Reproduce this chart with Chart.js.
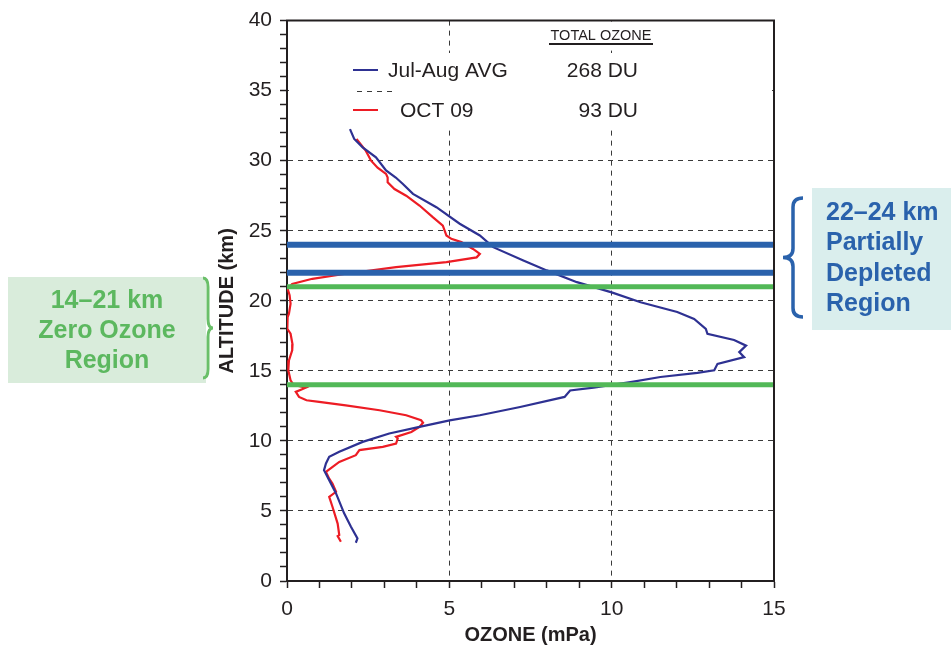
<!DOCTYPE html>
<html>
<head>
<meta charset="utf-8">
<title>Ozone profile</title>
<script src="https://cdn.jsdelivr.net/npm/chart.js@4.4.1/dist/chart.umd.min.js"></script>
<style>
  html, body { margin: 0; padding: 0; background: #fff; }
  #wrap { width: 951px; height: 648px; }
</style>
</head>
<body>
<div id="wrap"><canvas id="ozoneChart" width="951" height="648"></canvas></div>
<script>
const FONT = 'Arial, "Liberation Sans", sans-serif';
const INK = "#231f20";

// Jul-Aug average sounding (altitude km, partial pressure mPa)
const AVG_ALT = [32.25, 31.55, 30.95, 30.24, 29.3, 28.8, 28.34, 27.63, 26.68, 25.5, 24.66, 23.83, 22.88, 22.17,
  21.33, 20.6, 19.9, 19.2, 18.7, 18.0, 17.65, 17.2, 16.8, 16.34, 15.98, 15.5, 15.04, 14.85, 14.56, 14.2,
  13.8, 13.6, 13.14, 12.42, 11.83, 11.47, 11.0, 10.53, 9.93, 9.22, 8.86, 8.39, 7.91, 7.2, 6.25, 4.83,
  3.87, 3.04, 2.73];
const AVG_OZONE = [1.94, 2.07, 2.33, 2.74, 3.05, 3.35, 3.57, 3.88, 4.6, 5.32, 5.94, 6.35, 7.28, 8.0,
  8.93, 10.0, 10.89, 12.02, 12.54, 12.9, 12.95, 13.77, 14.14, 13.93, 14.08, 13.26, 13.16, 12.64, 11.5, 10.58,
  9.44, 8.72, 8.55, 7.18, 5.94, 5.01, 4.08, 3.15, 2.33, 1.61, 1.30, 1.20, 1.14, 1.30, 1.51, 1.76,
  1.97, 2.17, 2.12];

// 9 October sounding
const OCT_ALT = [31.55, 30.7, 30.0, 29.5, 29.06, 28.8, 28.46, 27.98, 27.5, 26.8, 25.97, 25.37, 24.66, 24.42,
  24.19, 23.7, 23.35, 23.1, 22.76, 22.4, 21.93, 21.57, 21.2, 20.86, 20.4, 19.79, 19.08, 18.84, 18.0, 17.65,
  16.9, 16.46, 15.75, 15.04, 14.33, 14.0, 13.8, 13.5, 13.14, 12.9, 12.78, 12.54, 12.19, 11.83, 11.47, 11.3,
  11.0, 10.64, 10.29, 10.17, 9.81, 9.57, 9.34, 8.98, 8.5, 7.79, 7.3, 6.96, 6.37, 6.0, 5.3, 4.1,
  3.28, 3.2, 2.8];
const OCT_OZONE = [2.14, 2.43, 2.59, 2.79, 3.05, 3.10, 3.10, 3.31, 3.67, 4.08, 4.49, 4.80, 4.91, 5.06,
  5.37, 5.73, 5.94, 5.84, 4.91, 3.36, 1.81, 0.78, 0.16, 0.02, 0.08, 0.11, 0.06, 0.02, 0.01, 0.11,
  0.17, 0.16, 0.06, 0.04, 0.11, 0.2, 0.58, 0.27, 0.37, 0.6, 0.99, 1.81, 2.85, 3.67, 4.13, 4.19,
  4.08, 3.83, 3.36, 3.41, 3.36, 2.95, 2.23, 2.12, 1.61, 1.20, 1.30, 1.40, 1.51, 1.30, 1.40, 1.56,
  1.61, 1.56, 1.66];

const SERIES_NAMES = ["Jul-Aug AVG", "OCT 09"];
const TOTAL_OZONE = [268, 93];
const ZERO_BAND = [14, 21];
const PARTIAL_BAND = [22, 24];
const X_MAX = 15, Y_MAX = 40, MAJOR = 5;

const BLUE_LINE = "#2e3192", RED_LINE = "#ed1c24";
const BAND_BLUE = "#2a62ac", BAND_GREEN = "#52b857";

const toPoints = (alt, oz) => alt.map((a, i) => ({ x: oz[i], y: a }));
const bandLine = (alt, color, width) => ({
  data: [{ x: 0, y: alt }, { x: X_MAX, y: alt }],
  showLine: true, borderColor: color, borderWidth: width, pointRadius: 0, order: 0
});

function brace(ctx, x, top, bottom, w) {
  const mid = (top + bottom) / 2, r = 9, sx = x + w / 2;
  ctx.beginPath();
  ctx.moveTo(x, top);
  ctx.quadraticCurveTo(sx, top, sx, top + r);
  ctx.lineTo(sx, mid - r);
  ctx.quadraticCurveTo(sx, mid, x + w, mid);
  ctx.quadraticCurveTo(sx, mid, sx, mid + r);
  ctx.lineTo(sx, bottom - r);
  ctx.quadraticCurveTo(sx, bottom, x, bottom);
  ctx.stroke();
}

const decorations = {
  id: "decorations",
  beforeDatasetsDraw(chart) {
    const { ctx, chartArea: a, scales: { y } } = chart;
    ctx.save();
    // legend panel blanks out the grid behind it
    ctx.fillStyle = "#fff";
    ctx.fillRect(a.left + 2, 53, a.right - a.left - 4, 75);
    ctx.fillRect(545, a.top + 1, 112, 28);
    ctx.strokeStyle = "#3a3a3a";
    ctx.lineWidth = 1;
    ctx.setLineDash([5, 5]);
    const y35 = Math.round(y.getPixelForValue(35)) + 0.5;
    ctx.beginPath(); ctx.moveTo(357, y35); ctx.lineTo(393, y35); ctx.stroke();
    ctx.restore();
  },
  afterDraw(chart) {
    const { ctx, chartArea: a } = chart;
    ctx.save();

    // top and right frame
    ctx.strokeStyle = INK;
    ctx.lineWidth = 2;
    ctx.beginPath();
    ctx.moveTo(a.left - 1, a.top);
    ctx.lineTo(a.right, a.top);
    ctx.lineTo(a.right, a.bottom + 1);
    ctx.stroke();

    // legend
    ctx.fillStyle = INK;
    ctx.textBaseline = "middle";
    ctx.font = "14.5px " + FONT;
    ctx.textAlign = "center";
    ctx.fillText("TOTAL OZONE", 601, 36);
    ctx.fillRect(549, 43, 104, 2);

    ctx.font = "21px " + FONT;
    [[BLUE_LINE, 70, 388], [RED_LINE, 110, 400]].forEach(([c, yy, tx], i) => {
      ctx.strokeStyle = c;
      ctx.lineWidth = 2;
      ctx.beginPath(); ctx.moveTo(353, yy); ctx.lineTo(378, yy); ctx.stroke();
      ctx.textAlign = "left";
      ctx.fillText(SERIES_NAMES[i], tx, yy + 1);
      ctx.textAlign = "right";
      ctx.fillText(TOTAL_OZONE[i] + " DU", 638, yy + 1);
    });

    // region call-outs
    ctx.fillStyle = "#d9ecdb";
    ctx.fillRect(8, 277, 198, 106);
    ctx.fillStyle = "#daeeed";
    ctx.fillRect(812, 188, 139, 142);

    ctx.font = "bold 25px " + FONT;
    ctx.fillStyle = "#5cb85f";
    ctx.textAlign = "center";
    [ZERO_BAND[0] + "\u2013" + ZERO_BAND[1] + " km", "Zero Ozone", "Region"]
      .forEach((t, i) => ctx.fillText(t, 107, 301 + i * 30));

    ctx.fillStyle = BAND_BLUE;
    ctx.textAlign = "left";
    [PARTIAL_BAND[0] + "\u2013" + PARTIAL_BAND[1] + " km", "Partially", "Depleted", "Region"]
      .forEach((t, i) => ctx.fillText(t, 826, 213 + i * 30.5));

    ctx.lineWidth = 3;
    ctx.strokeStyle = "#6abf69";
    brace(ctx, 203, 278, 378, 10);
    ctx.lineWidth = 3.5;
    ctx.strokeStyle = BAND_BLUE;
    brace(ctx, 803, 198, 317, -20);

    ctx.restore();
  }
};

const gridColor = max => c =>
  (c.tick && c.tick.value % MAJOR === 0 && c.tick.value > 0 && c.tick.value < max) ? "#3a3a3a" : "rgba(0,0,0,0)";

const axis = (max, title, pad, titlePad, extra) => Object.assign({
  type: "linear", min: 0, max: max,
  ticks: {
    stepSize: 1, autoSkip: false, maxRotation: 0, color: INK, padding: pad,
    font: { family: FONT, size: 21 },
    callback: v => v % MAJOR === 0 ? v : ""
  },
  grid: { color: gridColor(max), lineWidth: 1, tickColor: INK, tickWidth: 1.5, tickLength: 7 },
  border: { color: INK, width: 2, dash: [5, 5] },
  title: { display: true, text: title, color: INK, padding: titlePad,
    font: { family: FONT, size: 20, weight: "bold" } }
}, extra);

new Chart(document.getElementById("ozoneChart"), {
  type: "scatter",
  data: {
    datasets: [
      bandLine(PARTIAL_BAND[1], BAND_BLUE, 6),
      bandLine(PARTIAL_BAND[0], BAND_BLUE, 6),
      bandLine(ZERO_BAND[1], BAND_GREEN, 5),
      bandLine(ZERO_BAND[0], BAND_GREEN, 5),
      { label: SERIES_NAMES[0], data: toPoints(AVG_ALT, AVG_OZONE), showLine: true,
        borderColor: BLUE_LINE, borderWidth: 2.2, pointRadius: 0, order: 1 },
      { label: SERIES_NAMES[1], data: toPoints(OCT_ALT, OCT_OZONE), showLine: true,
        borderColor: RED_LINE, borderWidth: 2.2, pointRadius: 0, order: 1 }
    ]
  },
  options: {
    responsive: false,
    animation: false,
    events: [],
    layout: { padding: { left: 211, right: 177, top: 20, bottom: 0 } },
    plugins: { legend: { display: false }, tooltip: { enabled: false } },
    scales: {
      x: axis(X_MAX, "OZONE (mPa)", 9, { top: 4, bottom: 1 }, {
        position: "bottom",
        afterFit: s => { s.height = 67; }
      }),
      y: axis(Y_MAX, "ALTITUDE (km)", 8, { top: 4, bottom: 4 }, {
        position: "left",
        afterFit: s => { s.width = 76; }
      })
    }
  },
  plugins: [decorations]
});
</script>
</body>
</html>
